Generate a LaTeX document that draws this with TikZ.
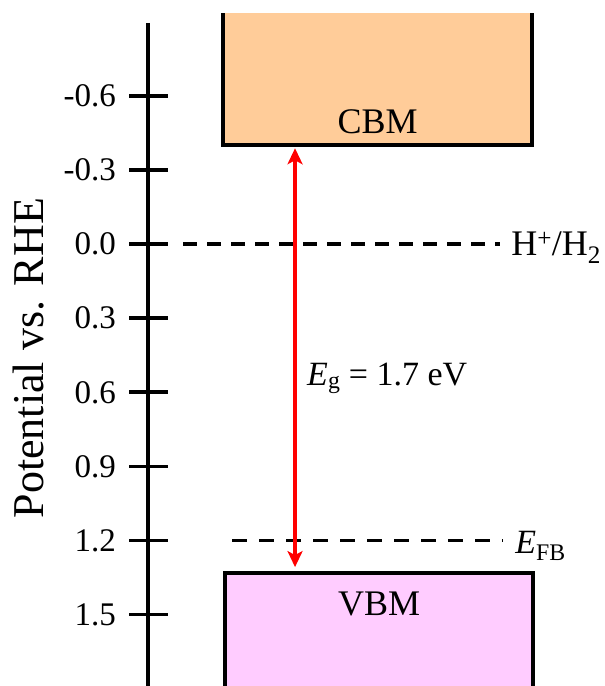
\documentclass[tikz,border=0pt]{standalone}
\usepackage{fontspec}
\setmainfont{Liberation Serif}
\usepackage{tikz}
\usetikzlibrary{arrows.meta}

\definecolor{cbmcol}{RGB}{255,204,153}
\definecolor{vbmcol}{RGB}{255,204,255}

\begin{document}
\begin{tikzpicture}[x=1pt,y=-247pt,>={Stealth[length=16pt,width=15pt,inset=4pt]},
  axisln/.style={draw=black,line width=3.6pt},
  ticklab/.style={anchor=east,inner sep=0pt,font=\fontsize{33}{38}\selectfont},
  band/.style={rectangle,draw=none,inner sep=0pt,outer sep=0pt},
  bandedge/.style={draw=black,line width=3.6pt,line join=miter},
  bandlab/.style={anchor=base,inner sep=0pt,font=\fontsize{36}{42}\selectfont},
  levelln/.style={draw=black,line width=3.6pt},
  levellab/.style={anchor=base west,inner sep=0pt,font=\fontsize{34}{40}\selectfont}]
\useasboundingbox (0,-0.988) rectangle (604,1.789);
% potential axis
\draw[axisln] (148,-0.895) -- (148,1.789);
\foreach \v/\t [count=\i] in {-0.6/-0.6,-0.3/-0.3,0/0.0,0.3/0.3,0.6/0.6,0.9/0.9,1.2/1.2,1.5/1.5}{
  \draw[axisln] (129,\v) -- (168,\v);
  \node[ticklab] (tl\i) at (116,\v) {\t};
}
\node[rotate=90,inner sep=0pt,font=\fontsize{44}{50}\selectfont] (ylab) at (29,0.462) {Potential vs. RHE};
% bands
\node[band,fill=cbmcol,minimum width=309pt,minimum height=132pt,anchor=south west] (cbm) at (223,-0.40) {};
\draw[bandedge] (cbm.north west) -- (cbm.south west) -- (cbm.south east) -- (cbm.north east);
\node[bandlab] (cbmlab) at ([yshift=12pt]cbm.south) {CBM};
\node[band,fill=vbmcol,minimum width=308pt,minimum height=114pt,anchor=north west] (vbm) at (225,1.332) {};
\draw[bandedge] (vbm.south west) -- (vbm.north west) -- (vbm.north east) -- (vbm.south east);
\node[bandlab] (vbmlab) at ([yshift=-42pt]vbm.north) {VBM};
% levels
\coordinate (h0) at (183,0);
\coordinate (h1) at (500,0);
\draw[levelln,dash pattern=on 14pt off 10pt] (h0) -- (h1);
\node[levellab,font=\fontsize{36}{42}\selectfont] (hlab) at (511,0.046) {H\textsuperscript{+}/H\textsubscript{2}};
\coordinate (f0) at (232,1.2);
\coordinate (f1) at (503,1.2);
\draw[levelln,dash pattern=on 15pt off 12pt] (f0) -- (f1);
\node[levellab] (fblab) at (515,1.252) {\textit{E}\textsubscript{FB}};
% band gap
\coordinate (gtop) at (295,-0.40);
\coordinate (gbot) at (295,1.332);
\draw[<->,draw=red,fill=red,line width=3.2pt] ([yshift=-3pt]gtop) -- ([yshift=6pt]gbot);
\node[levellab] (eglab) at (307,0.571) {\textit{E}\textsubscript{g} = 1.7 eV};
\end{tikzpicture}
\end{document}
